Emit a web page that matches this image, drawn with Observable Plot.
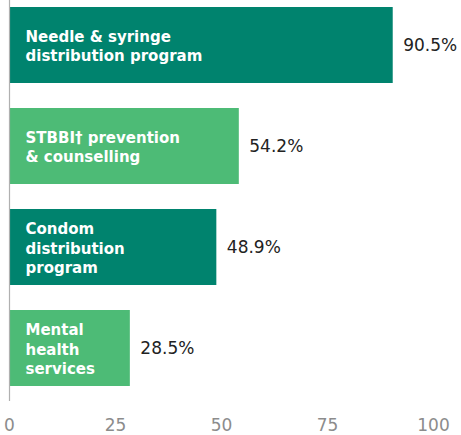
<!DOCTYPE html>
<html>
<head>
<meta charset="utf-8">
<script src="https://cdn.jsdelivr.net/npm/d3@7"></script>
<script src="https://cdn.jsdelivr.net/npm/@observablehq/plot@0.6"></script>
<style>
  body { margin: 0; background: #fff; }
  #chart svg { display: block; }
</style>
</head>
<body>
<div id="chart"></div>
<script>
const categories = [
  "Needle & syringe\ndistribution program",
  "STBBI\u2020 prevention\n& counselling",
  "Condom\ndistribution\nprogram",
  "Mental\nhealth\nservices"
];
const values = [90.5, 54.2, 48.9, 28.5];
const barColors = ["#00836e", "#4dbb76", "#00836e", "#4dbb76"];
const xTicks = [0, 25, 50, 75, 100];

const data = categories.map((c, i) => ({label: c, value: values[i], color: barColors[i]}));

const chart = Plot.plot({
  width: 461,
  height: 435,
  marginLeft: 9,
  marginRight: 28,
  marginTop: 0,
  marginBottom: 34,
  style: {fontFamily: "'DejaVu Sans', sans-serif", background: "#fff"},
  x: {domain: [0, 100], axis: null},
  y: {domain: categories, axis: null, paddingInner: 0.25, paddingOuter: 0.1, align: 0.3},
  color: {type: "identity"},
  marks: [
    Plot.barX(data, {x: "value", y: "label", fill: "color"}),
    Plot.text(data, {x: 0, y: "label", text: "label", textAnchor: "start", dx: 16, fill: "white", fontWeight: "bold", fontSize: 15, lineHeight: 1.3}),
    Plot.text(data, {x: "value", y: "label", text: d => d.value.toFixed(1) + "%", textAnchor: "start", dx: 10, fontSize: 17, fill: "#222"}),
    Plot.ruleX([0], {stroke: "#b0b0b0", strokeWidth: 1.2}),
    Plot.axisX({ticks: xTicks, tickSize: 0, tickPadding: 17, line: true, label: null, stroke: "#b0b0b0", fill: "#8c8c8c", fontSize: 17})
  ]
});
document.getElementById("chart").appendChild(chart);
</script>
</body>
</html>
